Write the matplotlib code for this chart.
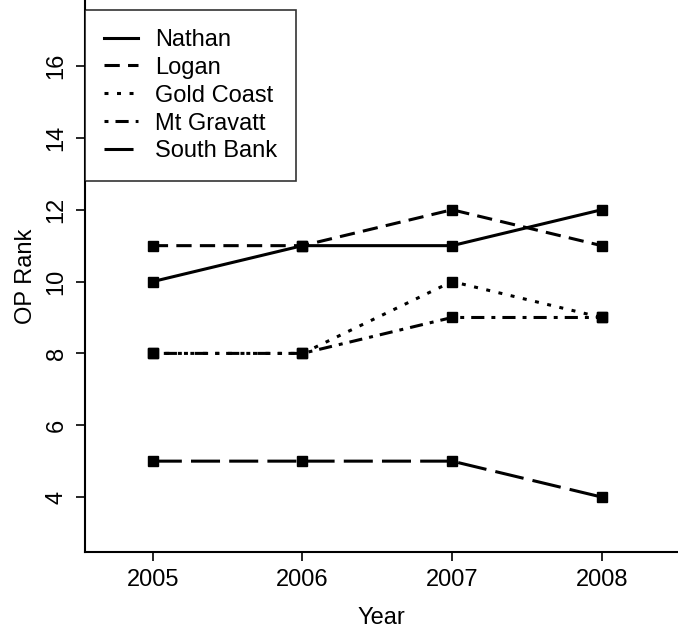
import matplotlib
matplotlib.use('Agg')
import matplotlib.pyplot as plt

plt.rcParams['font.family'] = ['Liberation Sans', 'DejaVu Sans']

years = [2005, 2006, 2007, 2008]
nathan = [10, 11, 11, 12]
logan = [11, 11, 12, 11]
gold_coast = [8, 8, 10, 9]
mt_gravatt = [8, 8, 9, 9]
south_bank = [5, 5, 5, 4]

series = [
    ('Nathan', nathan, '-'),
    ('Logan', logan, (0, (5, 2.7))),
    ('Gold Coast', gold_coast, (0, (1.3, 2.8))),
    ('Mt Gravatt', mt_gravatt, (0, (1.3, 2.3, 4.3, 2.3))),
    ('South Bank', south_bank, (0, (9.5, 3))),
]

fig = plt.figure(figsize=(6.78, 6.30), dpi=100)
ax = fig.add_axes([0.1254, 0.1238, 0.8746, 0.8762])

for name, vals, ls in series:
    ax.plot(years, vals, linestyle=ls, color='black', lw=2.2,
            marker='s', markersize=6.5, markerfacecolor='black',
            markeredgecolor='black', label=name)

ax.set_xlim(2004.547, 2008.51)
ax.set_ylim(2.47, 17.84)
ax.set_xticks(years)
ax.set_yticks([4, 6, 8, 10, 12, 14, 16])
ax.tick_params(axis='both', direction='out', length=6.5, width=1.2,
               labelsize=17, pad=6)
for lab in ax.get_yticklabels():
    lab.set_rotation(90)
    lab.set_va('center')

for s in ['top', 'right']:
    ax.spines[s].set_visible(False)
for s in ['left', 'bottom']:
    ax.spines[s].set_linewidth(1.5)

ax.set_xlabel('Year', fontsize=17, labelpad=11)
ax.set_ylabel('OP Rank', fontsize=17, labelpad=6)

leg = ax.legend(loc='upper left', bbox_to_anchor=(0, 0.982), borderaxespad=0,
                fontsize=17, fancybox=False, handlelength=1.45,
                labelspacing=0.25, handletextpad=0.7, borderpad=0.8)
leg.get_frame().set_edgecolor('black')
leg.get_frame().set_linewidth(1.2)
for h in leg.legend_handles:
    h.set_marker('')

fig.savefig('out.png', dpi=100)
